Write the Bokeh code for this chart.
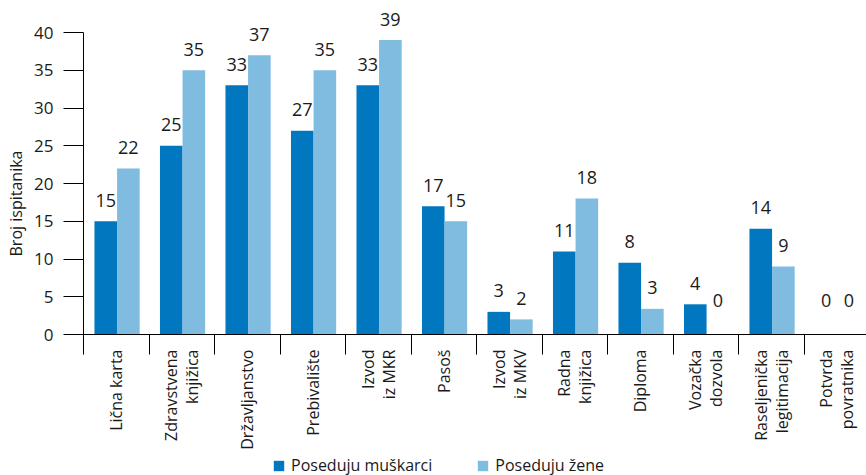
import math
from bokeh.plotting import figure
from bokeh.models import (FixedTicker, Legend, LegendItem, LinearAxis,
                          Range1d, ColumnDataSource)
from bokeh.embed import file_html
from bokeh.resources import INLINE
from bokeh.core.properties import value

# ---------------- data ----------------
categories = ["Lična karta", "Zdravstvena\nknjižica", "Državljanstvo", "Prebivalište",
              "Izvod\niz MKR", "Pasoš", "Izvod\niz MKV", "Radna\nknjižica", "Diploma",
              "Vozačka\ndozvola", "Raseljenička\nlegitimacija", "Potvrda\npovratnika"]
muskarci = [15, 25, 33, 27, 33, 17, 3, 11, 9.5, 4, 14, 0]        # bar heights as drawn
zene = [22, 35, 37, 35, 39, 15, 2, 18, 3.4, 0, 9, 0]
muskarci_labels = ["15", "25", "33", "27", "33", "17", "3", "11", "8", "4", "14", "0"]
zene_labels = ["22", "35", "37", "35", "39", "15", "2", "18", "3", "0", "9", "0"]
y_ticks = [0, 5, 10, 15, 20, 25, 30, 35, 40]
series_names = ["Poseduju muškarci", "Poseduju žene"]
y_title = "Broj ispitanika"

DARK = "#0077BF"
LIGHT = "#80BBE0"
FONT = "Open Sans"
TXT = "#1a1a1a"

n = len(categories)
idx = list(range(n))
centers = [i + 0.5 for i in idx]
x_m = [i + 0.34 for i in idx]
x_z = [i + 0.685 for i in idx]
lab_floor = 1.72
src_m = ColumnDataSource(dict(x=x_m, top=muskarci, ly=[max(v, lab_floor) for v in muskarci], t=muskarci_labels))
src_z = ColumnDataSource(dict(x=x_z, top=zene, ly=[max(v, lab_floor) for v in zene], t=zene_labels))

# category names split into lines; each line is drawn as its own rotated text
LINE_PITCH = 21
cx, cy, ct, cdx = [], [], [], []
for c, name in zip(centers, categories):
    lines = name.split("\n")
    k = len(lines)
    for j, line in enumerate(lines):
        cx.append(c)
        cy.append(0)
        ct.append(line)
        cdx.append((j - (k - 1) / 2) * LINE_PITCH)
src_c = ColumnDataSource(dict(x=cx, y=cy, t=ct, dx=cdx))

W, H = 866, 475
X0, Y0 = 83, 334          # pixel position of the data origin
px_x = 65.5
px_y = 7.55
p = figure(width=W, height=H, output_backend="svg", toolbar_location=None,
           x_range=Range1d(-X0 / px_x, (W - X0) / px_x),
           y_range=Range1d(-(H - Y0) / px_y, Y0 / px_y),
           x_axis_type=None, y_axis_type=None,
           min_border_left=0, min_border_right=0, min_border_top=0, min_border_bottom=0)
p.outline_line_color = None
p.background_fill_color = "white"
p.border_fill_color = "white"

r1 = p.vbar(x="x", top="top", width=0.345, source=src_m, fill_color=DARK, line_color=None)
r2 = p.vbar(x="x", top="top", width=0.345, source=src_z, fill_color=LIGHT, line_color=None)

for src in (src_m, src_z):
    p.text(x="x", y="ly", text="t", source=src, text_align="center", text_baseline="alphabetic",
           y_offset=-21, text_font=value(FONT), text_font_size="18px", text_color=TXT)

# y axis at x = 0
yaxis = LinearAxis(ticker=FixedTicker(ticks=y_ticks), bounds=(0, 40), fixed_location=0,
                   major_tick_out=20, major_tick_in=0, minor_tick_out=0, minor_tick_in=0,
                   major_label_text_font=FONT, major_label_text_font_size="17px",
                   major_label_text_color=TXT, major_label_standoff=10,
                   axis_line_color="black", major_tick_line_color="black")
p.add_layout(yaxis, "left")

# x axis at y = 0 with separator ticks (minor ticks) at the category boundaries
bounds_ticks = list(range(n + 1))
xaxis = LinearAxis(ticker=FixedTicker(ticks=[], minor_ticks=bounds_ticks), bounds=(0, n),
                   fixed_location=0,
                   major_tick_out=0, major_tick_in=0, minor_tick_out=20, minor_tick_in=0,
                   axis_line_color="black", minor_tick_line_color="black")
p.add_layout(xaxis, "below")

# category names, rotated, hanging below the axis
p.text(x="x", y="y", text="t", source=src_c, angle=math.pi / 2, x_offset="dx", y_offset=15,
       text_align="right", text_baseline="middle",
       text_font=value(FONT), text_font_size="16px", text_color=TXT)

# y axis title
p.text(x=[-(X0 - 15) / px_x], y=[(Y0 - 203) / px_y], text=[y_title], angle=math.pi / 2,
       text_align="center", text_baseline="middle", text_font=value(FONT),
       text_font_size="16px", text_color=TXT)

legend = Legend(items=[LegendItem(label=series_names[0], renderers=[r1]),
                       LegendItem(label=series_names[1], renderers=[r2])],
                orientation="horizontal", location=(272, -1),
                glyph_width=13, glyph_height=13, label_standoff=6, spacing=44,
                padding=0, margin=0, border_line_color=None, background_fill_alpha=0,
                label_text_font=FONT, label_text_font_size="16px", label_height=20,
                label_text_color=TXT)
p.add_layout(legend)

open("out.html", "w").write(file_html(p, INLINE))
